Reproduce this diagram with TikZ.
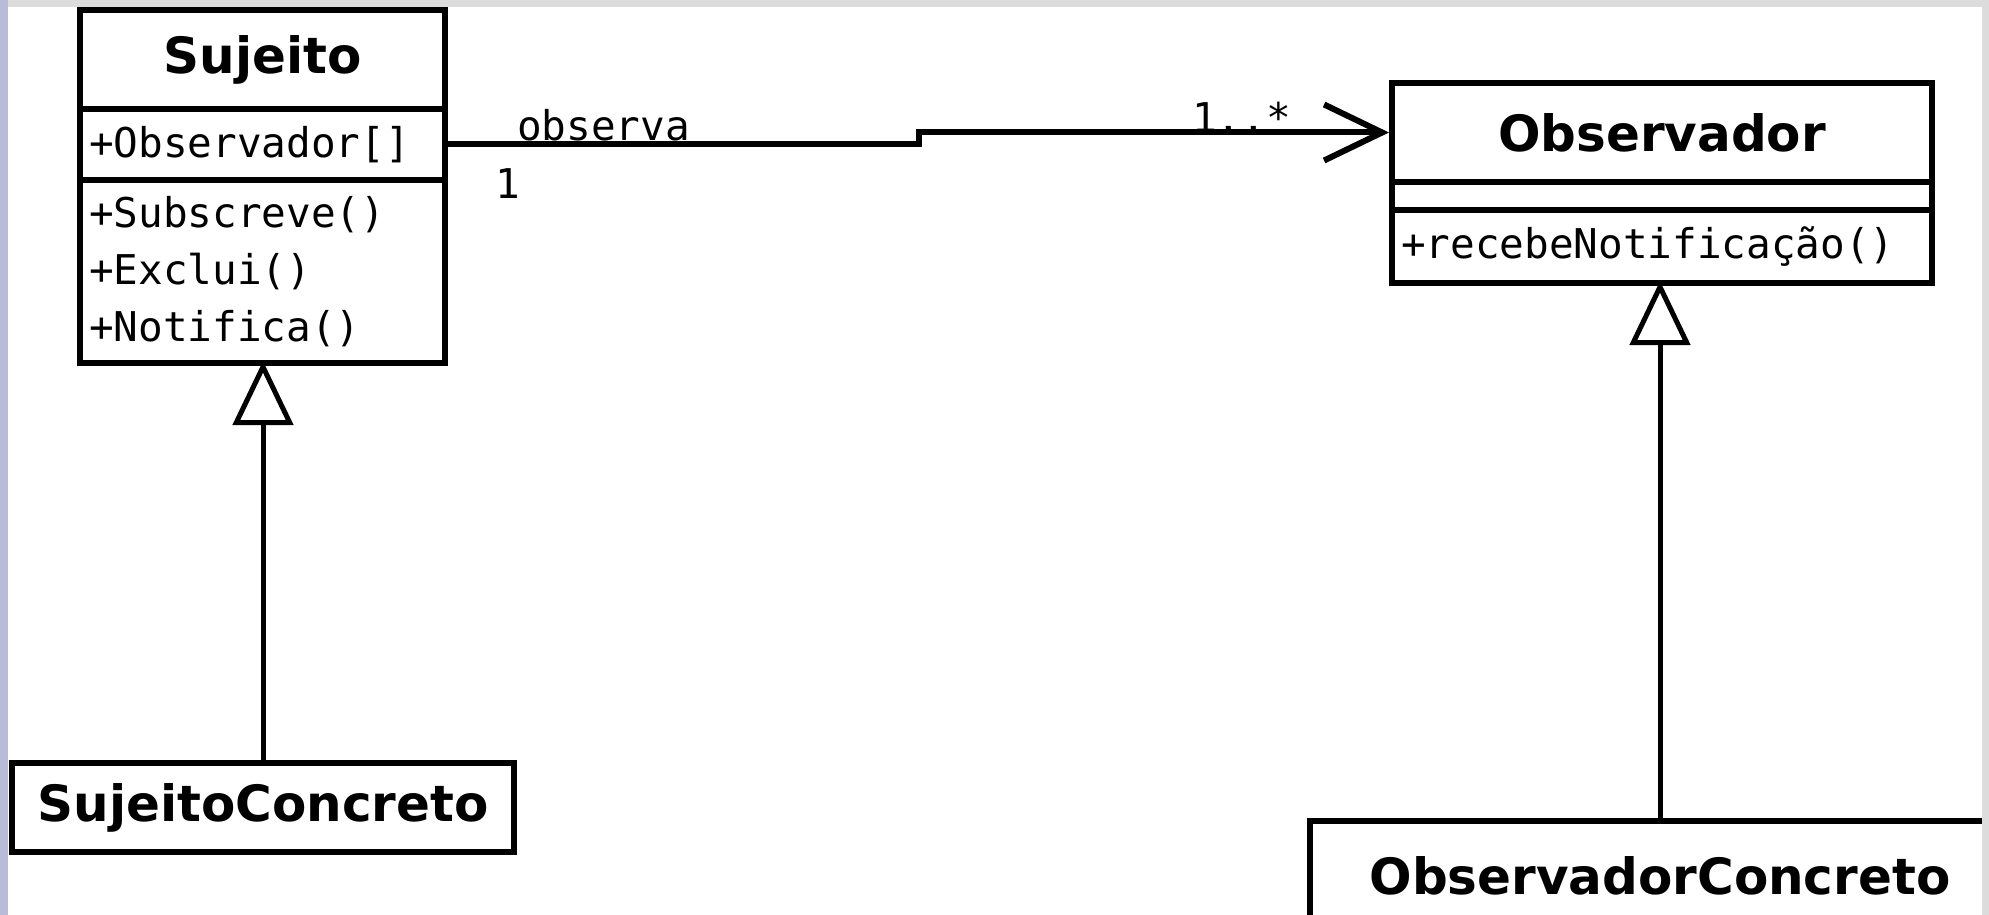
\documentclass[tikz,border=0pt]{standalone}
\usepackage{fontspec}
\setmainfont{DejaVu Sans}
\setmonofont{DejaVu Sans Mono}
\usepackage{xcolor}
\usetikzlibrary{arrows.meta,positioning,calc}

\definecolor{winside}{RGB}{184,188,216}
\definecolor{wintop}{RGB}{220,220,220}

\tikzset{
  classname/.style={draw, line width=6pt, minimum height=99pt, inner sep=0pt,
    font=\fontsize{50}{60}\selectfont\bfseries},
  members/.style={draw, line width=6pt, inner xsep=9pt, inner ysep=0pt, align=left,
    font=\ttfamily\fontsize{41}{57}\selectfont},
  mult/.style={inner sep=0pt, font=\ttfamily\fontsize{41}{49}\selectfont},
  assoc/.style={line width=6pt, -{Straight Barb[length=58pt,width=56pt]}},
  inherit/.style={line width=5pt, shorten >=-5pt, -{Triangle[open,length=64pt,width=60pt]}},
}

\begin{document}
\begin{tikzpicture}[x=1pt, y=-1pt]
\useasboundingbox (0,0) rectangle (1989,915);
\clip (0,0) rectangle (1989,915);
\fill[white] (0,0) rectangle (1989,915);

% Sujeito
\node[classname, minimum width=365pt] (sujName) at (262.5,59.5) {Sujeito};
\node[members, minimum width=365pt, text width=347pt, minimum height=71pt] (sujAttr) at (262.5,144.5) {+Observador[]};
\node[members, minimum width=365pt, text width=347pt, minimum height=183pt] (sujMeth) at (262.5,271.5) {+Subscreve()\\+Exclui()\\+Notifica()};
\node[classname, minimum width=502pt, minimum height=89pt] (sujConc) at (263,807.5) {SujeitoConcreto};

% Observador
\node[classname, minimum width=540pt] (obsName) at (1662,132.5) {Observador};
\node[draw, line width=6pt, inner sep=0pt, minimum width=540pt, minimum height=28pt] (obsAttr) at (1662,196) {};
\node[members, minimum width=540pt, text width=522pt, minimum height=73pt] (obsMeth) at (1662,246.5) {+recebeNotifica\c{c}\~ao()};
\node[classname, minimum width=700pt, minimum height=110pt] (obsConc) at (1660,876) {ObservadorConcreto};

% associacao
\draw[assoc] (sujAttr.east) -| ($(sujAttr.east)!0.5!(obsName.west)$) |- (obsName.west);
\node[mult, anchor=base west] (lblObserva) at (517,141) {observa};
\node[mult, anchor=base west] (multSuj) at (495,198) {1};
\node[mult, anchor=base west] (multObs) at (1192,133) {1..*};

% heranca
\draw[inherit] (sujConc.north) -- (sujConc.north |- sujMeth.south);
\draw[inherit] (obsConc.north) -- (obsConc.north |- obsMeth.south);

% bordas da janela
\fill[winside] (0,0) rectangle (8,915);
\fill[wintop] (8,0) rectangle (1989,7);
\fill[wintop] (1982,7) rectangle (1989,915);
\end{tikzpicture}
\end{document}
